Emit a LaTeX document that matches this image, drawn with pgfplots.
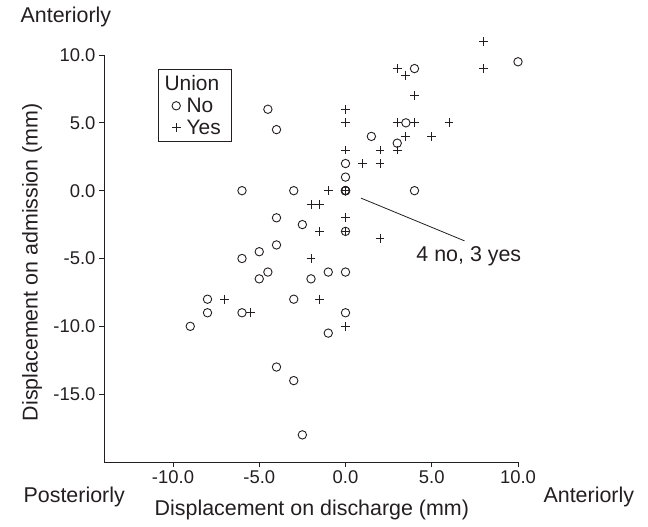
\documentclass[border=0pt]{standalone}
\usepackage{fontspec}
\setmainfont{Liberation Sans}
\usepackage{pgfplots}
\pgfplotsset{compat=1.18}
\definecolor{ink}{RGB}{35,31,32}

\begin{document}
\begin{tikzpicture}[font=\fontsize{21.5}{23}\selectfont]
\begin{axis}[name=ax,
  scale only axis, width=414bp, height=407bp,
  xmin=-14, xmax=10, ymin=-20, ymax=10,
  clip=false,
  axis lines*=left,
  axis line style={line width=0.8bp, draw=ink},
  tick align=outside, major tick length=5bp,
  tick style={line width=0.8bp, draw=ink},
  xtick={-10,-5,0,5,10}, xticklabels={-10.0,-5.0,0.0,5.0,10.0},
  ytick={-15,-10,-5,0,5,10}, yticklabels={-15.0,-10.0,-5.0,0.0,5.0,10.0},
  ticklabel style={font=\fontsize{18.5}{20}\selectfont, text=ink},
  xlabel={Displacement on discharge (mm)},
  ylabel={Displacement on admission (mm)},
  xlabel style={at={(axis description cs:0.502,-0.118)}, anchor=center, text=ink},
  ylabel style={at={(axis description cs:-0.174,0.491)}, anchor=center, text=ink},
  legend style={at={(0.13,0.966)}, anchor=north west, draw=ink, line width=0.8bp,
    font=\fontsize{21}{22}\selectfont, text=ink, inner xsep=9bp, inner ysep=4bp,
    row sep=2bp, column sep=4bp, cells={anchor=west}},
  legend image code/.code={\draw[mark repeat=1, mark phase=1, #1] plot coordinates {(9bp,0bp)};},
]
\addlegendimage{empty legend}
% no union
\addplot[only marks, mark=o, mark size=4.2bp, draw=ink, mark options={line width=0.9bp}] coordinates {
  (-4.5,6) (-4,4.5) (1.5,4) (3.5,5) (3,3.5) (4,9) (10,9.5) (0,2) (0,1)
  (-6,0) (-3,0) (0,0) (0,0) (0,0) (0,0) (4,0) (-4,-2) (-2.5,-2.5) (0,-3)
  (-4,-4) (-5,-4.5) (-6,-5) (-4.5,-6) (-5,-6.5) (-2,-6.5) (-1,-6) (0,-6)
  (-8,-8) (-3,-8) (-8,-9) (-6,-9) (0,-9) (-9,-10) (-1,-10.5) (-4,-13)
  (-3,-14) (-2.5,-18)
};
% union
\addplot[only marks, mark=+, mark size=4.4bp, draw=ink, mark options={line width=0.9bp}] coordinates {
  (8,11) (8,9) (3,9) (3.5,8.5) (4,7) (0,6) (0,5) (3,5) (4,5) (6,5) (3.5,4)
  (5,4) (5,4) (0,3) (2,3) (3,3) (1,2) (2,2) (-1,0) (0,0) (0,0) (0,0)
  (-2,-1) (-1.5,-1) (0,-2) (-1.5,-3) (0,-3) (2,-3.5) (-2,-5) (-7,-8)
  (-1.5,-8) (-5.5,-9) (0,-10)
};
\legend{\hspace*{-22bp}Union, No, Yes}

\draw[ink, line width=0.8bp] (axis cs:0.9,-0.55) -- (axis cs:6.9,-3.7);
\node[text=ink] at (axis cs:7.15,-4.8) {4 no, 3 yes};

\node[text=ink] at (rel axis cs:-0.092,1.093) {Anteriorly};
\node[text=ink] at (rel axis cs:-0.072,-0.086) {Posteriorly};
\node[text=ink] at (rel axis cs:1.171,-0.086) {Anteriorly};
\end{axis}
\pgfresetboundingbox
\path[use as bounding box] ([shift={(-104bp,-65bp)}]ax.south west) rectangle ++(648bp,527bp);
\end{tikzpicture}
\end{document}
